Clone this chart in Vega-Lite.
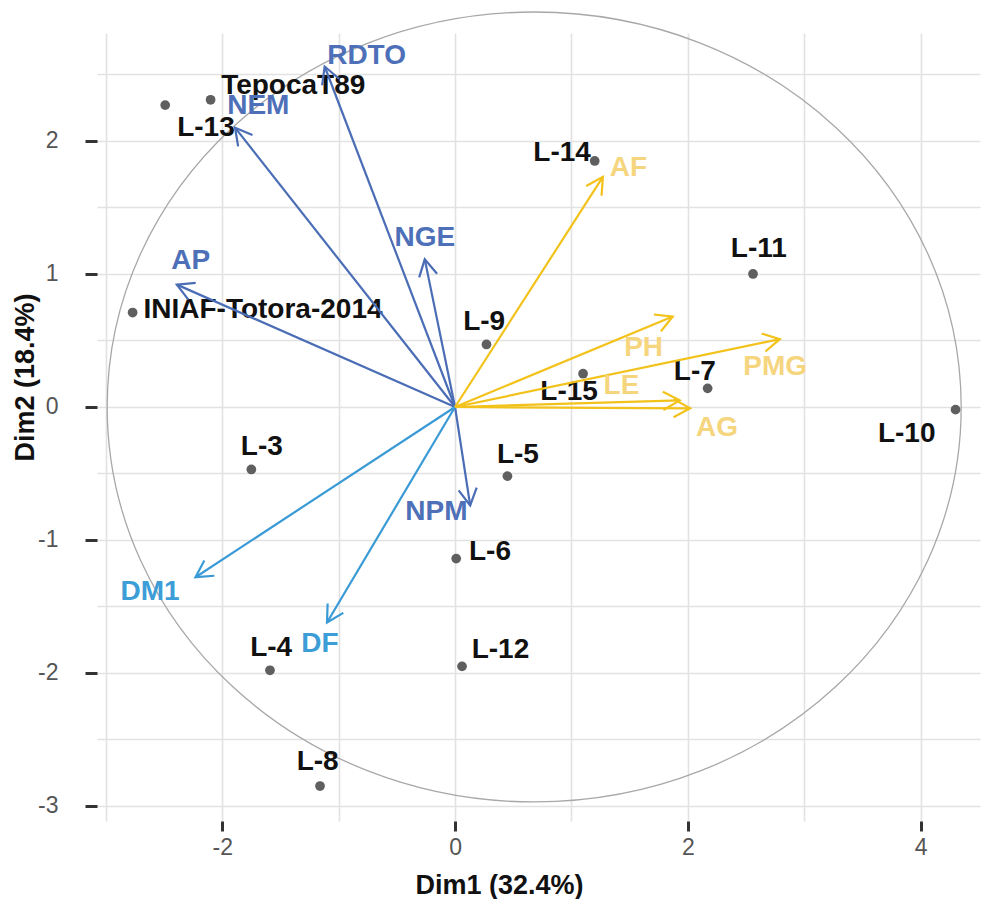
{
  "$schema": "https://vega.github.io/schema/vega-lite/v6.json",
  "width": 883,
  "height": 788,
  "autosize": "none",
  "padding": {"left": 97, "top": 33, "right": 2, "bottom": 78},
  "background": "white",
  "config": {"view": {"stroke": null}, "font": "Liberation Sans"},
  "datasets": {
    "ind": [
      {"name": "TepocaT89", "x": -2.10, "y": 2.31, "lx": -1.39, "ly": 2.41},
      {"name": "L-13", "x": -2.49, "y": 2.27, "lx": -2.14, "ly": 2.10},
      {"name": "INIAF-Totora-2014", "x": -2.77, "y": 0.71, "lx": -1.65, "ly": 0.73},
      {"name": "L-3", "x": -1.75, "y": -0.47, "lx": -1.66, "ly": -0.30},
      {"name": "L-4", "x": -1.59, "y": -1.98, "lx": -1.58, "ly": -1.81},
      {"name": "L-8", "x": -1.16, "y": -2.85, "lx": -1.18, "ly": -2.67},
      {"name": "L-6", "x": 0.01, "y": -1.14, "lx": 0.30, "ly": -1.09},
      {"name": "L-12", "x": 0.06, "y": -1.95, "lx": 0.39, "ly": -1.83},
      {"name": "L-5", "x": 0.45, "y": -0.52, "lx": 0.54, "ly": -0.36},
      {"name": "L-9", "x": 0.27, "y": 0.47, "lx": 0.25, "ly": 0.64},
      {"name": "L-15", "x": 1.10, "y": 0.25, "lx": 0.98, "ly": 0.11},
      {"name": "L-7", "x": 2.17, "y": 0.14, "lx": 2.06, "ly": 0.26},
      {"name": "L-11", "x": 2.56, "y": 1.00, "lx": 2.61, "ly": 1.19},
      {"name": "L-14", "x": 1.20, "y": 1.85, "lx": 0.92, "ly": 1.91},
      {"name": "L-10", "x": 4.30, "y": -0.02, "lx": 3.88, "ly": -0.20}
    ],
    "var": [
      {"name": "RDTO", "grp": "b", "x": -1.12, "y": 2.56, "lx": -0.76, "ly": 2.64},
      {"name": "NEM", "grp": "b", "x": -1.89, "y": 2.10, "lx": -1.69, "ly": 2.26},
      {"name": "AP", "grp": "b", "x": -2.39, "y": 0.92, "lx": -2.27, "ly": 1.10},
      {"name": "NGE", "grp": "b", "x": -0.26, "y": 1.11, "lx": -0.26, "ly": 1.27},
      {"name": "NPM", "grp": "b", "x": 0.13, "y": -0.74, "lx": -0.16, "ly": -0.79},
      {"name": "DM1", "grp": "l", "x": -2.23, "y": -1.28, "lx": -2.62, "ly": -1.39},
      {"name": "DF", "grp": "l", "x": -1.10, "y": -1.62, "lx": -1.16, "ly": -1.78},
      {"name": "AF", "grp": "y", "x": 1.27, "y": 1.73, "lx": 1.49, "ly": 1.80},
      {"name": "PH", "grp": "y", "x": 1.87, "y": 0.68, "lx": 1.62, "ly": 0.44},
      {"name": "PMG", "grp": "y", "x": 2.79, "y": 0.51, "lx": 2.75, "ly": 0.30},
      {"name": "LE", "grp": "y", "x": 1.93, "y": 0.05, "lx": 1.43, "ly": 0.16},
      {"name": "AG", "grp": "y", "x": 2.02, "y": -0.01, "lx": 2.25, "ly": -0.16}
    ]
  },
  "layer": [
    {
      "data": {"values": [{}]},
      "mark": {
        "type": "point",
        "shape": "M-1,0C-1,-0.511,-0.552,-0.925,0,-0.925C0.552,-0.925,1,-0.511,1,0C1,0.511,0.552,0.925,0,0.925C-0.552,0.925,-1,0.511,-1,0Z",
        "size": 729316,
        "filled": false,
        "stroke": "#a8a8a8",
        "strokeWidth": 1.3,
        "opacity": 1
      },
      "encoding": {
        "x": {
          "datum": 0.68,
          "type": "quantitative",
          "scale": {"domain": [-3.076, 4.51], "nice": false, "zero": false},
          "axis": {
            "title": "Dim1 (32.4%)",
            "values": [-3, -2, -1, 0, 1, 2, 3, 4],
            "labelExpr": "datum.value % 2 === 0 ? '' + datum.value : ''",
            "grid": true,
            "gridColor": "#e2e2e2",
            "gridWidth": 1.6,
            "domain": false,
            "tickColor": {"condition": {"test": "datum.value % 2 === 0", "value": "#333333"}, "value": "transparent"},
            "tickSize": 10,
            "tickWidth": 3,
            "labelPadding": 5,
            "labelFont": "Liberation Sans",
            "labelFontSize": 23,
            "labelColor": "#555555",
            "titleFont": "Liberation Sans",
            "titleFontSize": 27,
            "titleFontWeight": "bold",
            "titleColor": "#111111",
            "titleX": 402,
            "titleY": 64,
            "titleBaseline": "middle"
          }
        },
        "y": {
          "datum": 0,
          "type": "quantitative",
          "scale": {"domain": [-3.113, 2.812], "nice": false, "zero": false},
          "axis": {
            "title": "Dim2 (18.4%)",
            "values": [-3, -2.5, -2, -1.5, -1, -0.5, 0, 0.5, 1, 1.5, 2, 2.5],
            "labelExpr": "datum.value % 1 === 0 ? '' + datum.value : ''",
            "grid": true,
            "gridColor": "#e2e2e2",
            "gridWidth": 1.6,
            "domain": false,
            "tickColor": {"condition": {"test": "datum.value % 1 === 0", "value": "#333333"}, "value": "transparent"},
            "tickSize": 12,
            "tickWidth": 3,
            "labelPadding": 27,
            "labelFont": "Liberation Sans",
            "labelFontSize": 23,
            "labelColor": "#555555",
            "titleFont": "Liberation Sans",
            "titleFontSize": 27,
            "titleFontWeight": "bold",
            "titleColor": "#111111",
            "titleX": -72,
            "titleY": 344,
            "titleBaseline": "middle",
            "titleAlign": "center"
          }
        }
      }
    },
    {
      "data": {"name": "ind"},
      "mark": {"type": "point", "filled": true, "size": 95, "color": "#5f5f5f", "opacity": 1},
      "encoding": {
        "x": {"field": "x", "type": "quantitative"},
        "y": {"field": "y", "type": "quantitative"}
      }
    },
    {
      "data": {"name": "ind"},
      "mark": {"type": "text", "font": "Liberation Sans", "fontWeight": "bold", "fontSize": 28, "color": "#111111", "align": "center", "baseline": "middle"},
      "encoding": {
        "x": {"field": "lx", "type": "quantitative"},
        "y": {"field": "ly", "type": "quantitative"},
        "text": {"field": "name"}
      }
    },
    {
      "data": {"name": "var"},
      "mark": {"type": "rule", "strokeWidth": 2.2},
      "encoding": {
        "x": {"field": "x", "type": "quantitative"},
        "y": {"field": "y", "type": "quantitative"},
        "x2": {"datum": 0},
        "y2": {"datum": 0},
        "color": {"field": "grp", "type": "nominal", "legend": null, "scale": {"domain": ["b", "l", "y"], "range": ["#4a6db5", "#3a9ad5", "#f2c21b"]}}
      }
    },
    {
      "data": {"name": "var"},
      "mark": {
        "type": "point",
        "shape": "M-1,-0.55L0,0L-1,0.55",
        "size": 1100,
        "filled": false,
        "strokeWidth": 2.2,
        "opacity": 1,
        "angle": {"expr": "atan2(scale('y', datum.y) - scale('y', 0), scale('x', datum.x) - scale('x', 0)) * 180 / PI"}
      },
      "encoding": {
        "x": {"field": "x", "type": "quantitative"},
        "y": {"field": "y", "type": "quantitative"},
        "color": {"field": "grp", "type": "nominal", "legend": null, "scale": {"domain": ["b", "l", "y"], "range": ["#4a6db5", "#3a9ad5", "#f2c21b"]}}
      }
    },
    {
      "data": {"name": "var"},
      "mark": {"type": "text", "font": "Liberation Sans", "fontWeight": "bold", "fontSize": 28, "align": "center", "baseline": "middle"},
      "encoding": {
        "x": {"field": "lx", "type": "quantitative"},
        "y": {"field": "ly", "type": "quantitative"},
        "text": {"field": "name"},
        "color": {"field": "grp", "type": "nominal", "legend": null, "scale": {"domain": ["b", "l", "y"], "range": ["#4e70b8", "#3d9dd7", "#f6d57f"]}}
      }
    },
    {
      "mark": {"type": "rule", "strokeDash": [9, 6], "strokeWidth": 2.6, "color": "#222222"},
      "encoding": {"y": {"datum": 0}}
    },
    {
      "mark": {"type": "rule", "strokeDash": [9, 6], "strokeWidth": 2.6, "color": "#222222"},
      "encoding": {"x": {"datum": 0}}
    }
  ],
  "resolve": {"scale": {"color": "independent"}}
}
